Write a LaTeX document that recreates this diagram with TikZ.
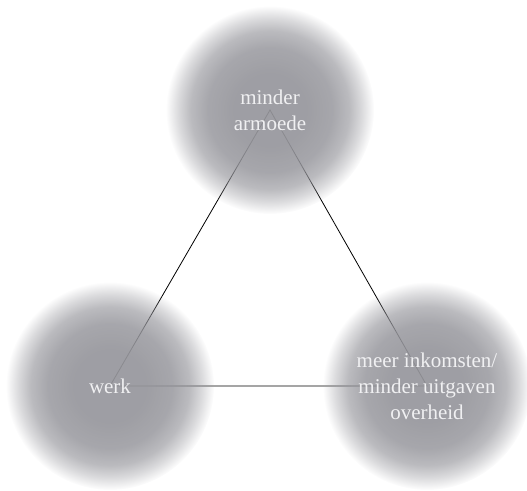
\documentclass[tikz,border=0pt]{standalone}
\usepackage{fontspec}
\setmainfont{Liberation Serif}
\usetikzlibrary{backgrounds,fadings}
\definecolor{cg}{RGB}{150,150,156}
\definecolor{txt}{RGB}{240,240,242}
\pgfdeclareradialshading{blobfadesh}{\pgfpointorigin}{color(0bp)=(pgftransparent!8); color(9bp)=(pgftransparent!8); color(15bp)=(pgftransparent!16); color(19bp)=(pgftransparent!35); color(22bp)=(pgftransparent!65); color(25bp)=(pgftransparent!100); color(50bp)=(pgftransparent!100)}
\pgfdeclarefading{blobfade}{\pgfuseshading{blobfadesh}}
\begin{document}
\begin{tikzpicture}[x=1pt,y=1pt,
  blobnode/.style={circle, minimum size=208pt, inner sep=0pt, fill=cg, path fading=blobfade,
    text=txt, align=center, font=\fontsize{21}{26}\selectfont},
  edge/.style={draw=black, line width=0.8pt}]
\useasboundingbox (0,0) rectangle (527,490);
\node[blobnode] (top) at (270,380) {minder\\armoede};
\node[blobnode] (left) at (110,104) {werk};
\node[blobnode] (right) at (427,104) {meer inkomsten/\\minder uitgaven\\overheid};
\begin{scope}[on background layer]
\draw[edge] (top.center) -- (left.center) -- (right.center) -- cycle;
\end{scope}
\end{tikzpicture}
\end{document}
